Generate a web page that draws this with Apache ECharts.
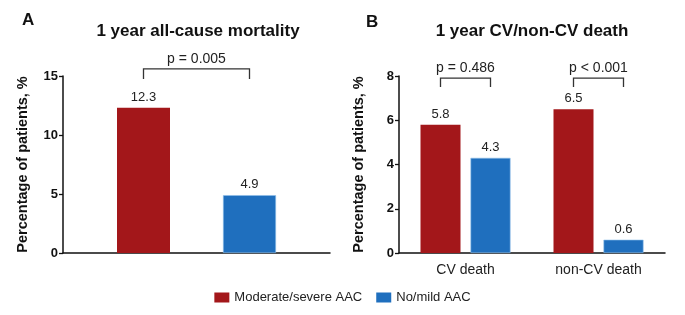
<!DOCTYPE html>
<html>
<head>
<meta charset="utf-8">
<script src="https://cdn.jsdelivr.net/npm/echarts@6/dist/echarts.min.js"></script>
<style>
  html, body { margin: 0; padding: 0; background: #fff; }
  #chart { width: 685px; height: 315px; }
</style>
</head>
<body>
<div id="chart"></div>
<script>
// data
const seriesNames = ['Moderate/severe AAC', 'No/mild AAC'];
const colors = ['#A3171A', '#1F6FBE'];

// panel A: all-cause mortality
const catsA = ['1 year'];
const severeA = [12.3];
const mildA = [4.9];
const pA = [[0, 15.6, 14.75, 'p = 0.005']];

// panel B: CV / non-CV death
const catsB = ['CV death', 'non-CV death'];
const severeB = [5.8, 6.5];
const mildB = [4.3, 0.6];
const pB = [[0, 7.9, 7.5, 'p = 0.486'], [1, 7.9, 7.5, 'p < 0.001']];

const font = 'Liberation Sans, Arial, sans-serif';

// bracket drawn over the two bars of a category
function bracket(halfGap, textDy) {
  return function (params, api) {
    const top = api.coord([api.value(0), api.value(1)]);
    const bot = api.coord([api.value(0), api.value(2)]);
    const x1 = top[0] - halfGap, x2 = top[0] + halfGap;
    const st = { stroke: '#333', lineWidth: 1.3, fill: null };
    return {
      type: 'group',
      children: [
        { type: 'polyline', shape: { points: [[x1, bot[1]], [x1, top[1]], [x2, top[1]], [x2, bot[1]]] }, style: st },
        { type: 'text', x: top[0], y: top[1] - textDy,
          style: { text: api.value(3), font: '14px ' + font, fill: '#222', align: 'center', verticalAlign: 'bottom' } }
      ]
    };
  };
}

const yAxisCommon = {
  type: 'value',
  name: 'Percentage of patients, %',
  nameLocation: 'middle',
  nameGap: 33,
  nameTextStyle: { fontFamily: font, fontWeight: 'bold', fontSize: 14.5, color: '#111' },
  axisLine: { show: true, lineStyle: { color: '#111', width: 1.5 } },
  axisTick: { show: true, length: 4, lineStyle: { color: '#111', width: 1.3 } },
  axisLabel: { fontFamily: font, fontWeight: 'bold', fontSize: 13, color: '#111', margin: 5 },
  splitLine: { show: false }
};

const barLabel = { show: true, position: 'top', fontFamily: font, fontSize: 13, color: '#222', distance: 4 };

const chart = echarts.init(document.getElementById('chart'), null, { renderer: 'canvas' });
chart.setOption({
  animation: false,
  textStyle: { fontFamily: font },
  title: [
    { text: 'A', left: 22, top: 12, padding: 0, textStyle: { fontSize: 17, fontWeight: 'bold', color: '#111' } },
    { text: 'B', left: 366, top: 14, padding: 0, textStyle: { fontSize: 17, fontWeight: 'bold', color: '#111' } },
    { text: '1 year all-cause mortality', left: 198, top: 23, padding: 0, textAlign: 'center', textStyle: { fontSize: 17, fontWeight: 'bold', color: '#111' } },
    { text: '1 year CV/non-CV death', left: 532, top: 23, padding: 0, textAlign: 'center', textStyle: { fontSize: 17, fontWeight: 'bold', color: '#111' } }
  ],
  legend: {
    bottom: 6,
    left: 'center',
    itemWidth: 15,
    itemHeight: 10,
    itemGap: 14,
    icon: 'rect',
    data: seriesNames,
    itemStyle: { borderWidth: 0 },
    textStyle: { fontFamily: font, fontSize: 13, color: '#222' }
  },
  grid: [
    { left: 63, right: 355, top: 76, bottom: 62 },
    { left: 399, right: 20, top: 76, bottom: 62 }
  ],
  xAxis: [
    { type: 'category', gridIndex: 0, data: catsA,
      axisLine: { lineStyle: { color: '#111', width: 1.5 } }, axisTick: { show: false }, axisLabel: { show: false } },
    { type: 'category', gridIndex: 1, data: catsB,
      axisLine: { lineStyle: { color: '#111', width: 1.5 } }, axisTick: { show: false },
      axisLabel: { fontFamily: font, fontSize: 14, color: '#222', margin: 10 } }
  ],
  yAxis: [
    Object.assign({}, yAxisCommon, { gridIndex: 0, min: 0, max: 15, interval: 5 }),
    Object.assign({}, yAxisCommon, { gridIndex: 1, min: 0, max: 8, interval: 2 })
  ],
  series: [
    { name: seriesNames[0], type: 'bar', xAxisIndex: 0, yAxisIndex: 0, data: severeA,
      barWidth: 53, barGap: '100%', itemStyle: { color: colors[0] }, label: barLabel },
    { name: seriesNames[1], type: 'bar', xAxisIndex: 0, yAxisIndex: 0, data: mildA,
      barWidth: 53, barGap: '100%', itemStyle: { color: colors[1], borderColor: '#8fc0ea', borderWidth: 0.6 }, label: barLabel },
    { name: seriesNames[0], type: 'bar', xAxisIndex: 1, yAxisIndex: 1, data: severeB,
      barWidth: 40, barGap: '25%', itemStyle: { color: colors[0] }, label: barLabel },
    { name: seriesNames[1], type: 'bar', xAxisIndex: 1, yAxisIndex: 1, data: mildB,
      barWidth: 40, barGap: '25%', itemStyle: { color: colors[1], borderColor: '#8fc0ea', borderWidth: 0.6 }, label: barLabel },
    { type: 'custom', xAxisIndex: 0, yAxisIndex: 0, data: pA, clip: false, silent: true,
      renderItem: bracket(53, 3), encode: { x: 0, y: 1 }, z: 5 },
    { type: 'custom', xAxisIndex: 1, yAxisIndex: 1, data: pB, clip: false, silent: true,
      renderItem: bracket(25, 3), encode: { x: 0, y: 1 }, z: 5 }
  ]
});
</script>
</body>
</html>
